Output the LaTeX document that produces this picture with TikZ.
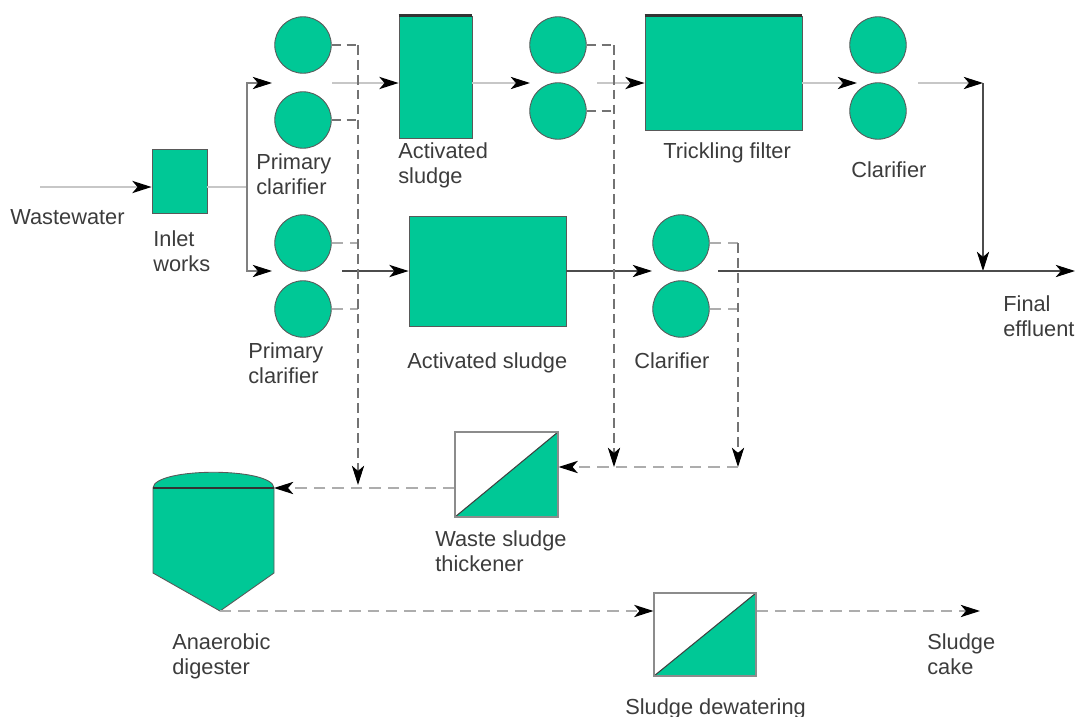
\documentclass[tikz,border=0pt]{standalone}
\usepackage{fontspec}
\setmainfont{Liberation Sans}
\usetikzlibrary{arrows.meta}

\definecolor{tank}{RGB}{0,200,150}
\definecolor{ink}{RGB}{60,60,60}

\begin{document}
\begin{tikzpicture}[
  x=0.02cm, y=-0.02cm,
  >={Stealth[length=11pt, width=7pt, inset=3pt, color=black]},
  clar/.style={circle, minimum size=1.13cm, inner sep=0pt, fill=tank, draw=black!65, line width=0.5pt},
  basin/.style={rectangle, inner sep=0pt, fill=tank, draw=black!65, line width=0.5pt},
  splitbox/.style={rectangle, inner sep=0pt, fill=white, draw=black!45, line width=0.6pt,
    path picture={
      \fill[tank] (path picture bounding box.south west) -- (path picture bounding box.north east)
        -- (path picture bounding box.south east) -- cycle;
      \draw[black!75, line width=0.6pt] (path picture bounding box.south west)
        -- (path picture bounding box.north east);}},
  rim/.style={line width=1.3pt, draw=black!80},
  flowlight/.style={->, line width=0.7pt, draw=black!22},
  flowmid/.style={->, line width=0.6pt, draw=black!50},
  flowdark/.style={->, line width=0.6pt, draw=black!70},
  sludge/.style={line width=0.6pt, draw=black!55, dash pattern=on 5.5pt off 3pt},
  sludgelight/.style={line width=0.8pt, draw=black!32, dash pattern=on 6.5pt off 4pt},
  lbl/.style={anchor=north west, inner sep=0pt, align=left, text=ink,
    font=\fontsize{12.4}{14.2}\selectfont}
]

\useasboundingbox (0,0) rectangle (1080,717);

% units and tanks
\node[basin, minimum width=1.1cm, minimum height=1.28cm] (inlet) at (179.5,181) {};
\node[clar] (pc1a) at (303,45) {};
\node[clar] (pc1b) at (303,120) {};
\node[clar] (pc2a) at (303,243) {};
\node[clar] (pc2b) at (303,309) {};
\node[basin, minimum width=1.46cm, minimum height=2.44cm] (as1) at (435.5,77) {};
\node[clar] (c1a) at (558,45) {};
\node[clar] (c1b) at (558,111) {};
\node[basin, minimum width=3.14cm, minimum height=2.28cm] (tf) at (723.5,73) {};
\node[clar] (c2a) at (878,45) {};
\node[clar] (c2b) at (878,111) {};
\node[basin, minimum width=3.14cm, minimum height=2.2cm] (as2) at (487.5,271) {};
\node[clar] (c3a) at (681,243) {};
\node[clar] (c3b) at (681,309) {};
\node[splitbox, minimum width=2.06cm, minimum height=1.7cm] (th) at (506.5,474.5) {};
\node[splitbox, minimum width=2.04cm, minimum height=1.66cm] (dw) at (705,634.5) {};

\draw[rim] (as1.north west) -- (as1.north east);
\draw[rim] (tf.north west) -- (tf.north east);

% digester
\coordinate (digtop) at (274,488);
\coordinate (digbot) at (220,611);
\draw[fill=tank, draw=black!65, line width=0.5pt] (153,488)
  .. controls (154,467) and (273,467) .. (digtop) -- (274,573) -- (digbot) -- (153,573) -- cycle;
\draw[rim, line width=1pt] (153,488) -- (digtop);

% labels
\node[lbl] (lww) at (10,209) {Wastewater};
\node[lbl] (lin) at (153,230) {Inlet\\works};
\node[lbl] (lpc1) at (256,153) {Primary\\clarifier};
\node[lbl] (lpc2) at (248,342) {Primary\\clarifier};
\node[lbl] (las1) at (398,142) {Activated\\sludge};
\node[lbl] (ltf) at (663,142) {Trickling filter};
\node[lbl] (lc2) at (851,161) {Clarifier};
\node[lbl] (leff) at (1003,295) {Final\\effluent};
\node[lbl] (las2) at (407,352) {Activated sludge};
\node[lbl] (lc3) at (634,352) {Clarifier};
\node[lbl] (lth) at (435,530) {Waste sludge\\thickener};
\node[lbl] (ldig) at (172,633) {Anaerobic\\digester};
\node[lbl] (ldw) at (625,698) {Sludge dewatering};
\node[lbl] (lcake) at (927,633) {Sludge\\cake};

% junctions
\coordinate (ww) at (40,187);
\coordinate (split) at (247,187);
\coordinate (pc1in) at (272,83);
\coordinate (pc2in) at (272,271);
\coordinate (pc1out) at (332,83);
\coordinate (c1in) at (530,83);
\coordinate (c1out) at (597,83);
\coordinate (c2in) at (857,83);
\coordinate (c2out) at (918,83);
\coordinate (bend) at (983,83);
\coordinate (join) at (983,271);
\coordinate (pc2out) at (342,271);
\coordinate (c3in) at (652,271);
\coordinate (c3out) at (718,271);
\coordinate (eff) at (1075,271);
\coordinate (dropA) at (358,485);
\coordinate (dropB) at (614,467);
\coordinate (dropC) at (738,467);
\coordinate (cake) at (980,611);

% liquid line
\draw[flowlight] (ww) -- (ww -| inlet.west);
\draw[flowlight, -] (inlet.east |- ww) -- (split);
\draw[flowmid] (split) |- (pc1in);
\draw[flowmid] (split) |- (pc2in);
\draw[flowlight] (pc1out) -- (pc1out -| as1.west);
\draw[flowlight] (as1.east |- c1in) -- (c1in);
\draw[flowlight] (c1out) -- (c1out -| tf.west);
\draw[flowlight] (tf.east |- c2in) -- (c2in);
\draw[flowlight] (c2out) -- (bend);
\draw[flowdark] (bend) -- (join);
\draw[flowdark] (pc2out) -- (as2.west);
\draw[flowdark] (as2.east) -- (c3in);
\draw[flowdark] (c3out) -- (eff);

% sludge line
\draw[sludge] (pc1a.east) -- (pc1a.east -| dropA);
\draw[sludge] (pc1b.east) -- (pc1b.east -| dropA);
\draw[sludgelight] (pc2a.east) -- (pc2a.east -| dropA);
\draw[sludgelight] (pc2b.east) -- (pc2b.east -| dropA);
\draw[sludge, ->] (pc1a.east -| dropA) -- (dropA);
\draw[sludge] (c1a.east) -- (c1a.east -| dropB);
\draw[sludge] (c1b.east) -- (c1b.east -| dropB);
\draw[sludge, ->] (c1a.east -| dropB) -- (dropB);
\draw[sludgelight] (c3a.east) -- (c3a.east -| dropC);
\draw[sludgelight] (c3b.east) -- (c3b.east -| dropC);
\draw[sludge, ->] (c3a.east -| dropC) -- (dropC);
\draw[sludgelight, ->] (dropC) -- (dropB) -- (dropB -| th.east);
\draw[sludgelight, ->] (th.west |- digtop) -- (digtop);
\draw[sludgelight, ->] (digbot) -- (digbot -| dw.west);
\draw[sludgelight, ->] (dw.east |- cake) -- (cake);

\end{tikzpicture}
\end{document}
